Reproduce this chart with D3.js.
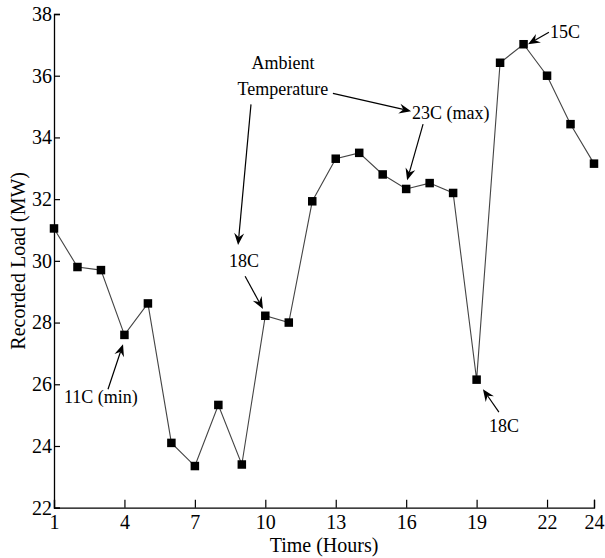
<!DOCTYPE html>
<html>
<head>
<meta charset="utf-8">
<script src="https://cdn.jsdelivr.net/npm/d3@7"></script>
<style>
  html, body { margin: 0; padding: 0; background: #fff; }
  svg { display: block; }
  text { font-family: "Liberation Serif", "Times New Roman", serif; fill: #000; }
</style>
</head>
<body>
<svg id="chart" width="605" height="558"></svg>
<script>
// ---- data ----
const hours = [1,2,3,4,5,6,7,8,9,10,11,12,13,14,15,16,17,18,19,20,21,22,23,24];
const loadMW = [31.05,29.8,29.7,27.6,28.62,24.1,23.35,25.33,23.4,28.22,28.0,31.93,33.31,33.5,32.8,32.33,32.52,32.2,26.15,36.42,37.02,36.0,34.43,33.15];
const xTicks = [1,4,7,10,13,16,19,22,24];
const yTicks = [22,24,26,28,30,32,34,36,38];
const xLabel = "Time (Hours)";
const yLabel = "Recorded Load (MW)";

// annotations in data units [hour, MW]
const annoTexts = [
  {t:"Ambient", at:[10.75,36.21], anchor:"middle"},
  {t:"Temperature", at:[10.75,35.38], anchor:"middle"},
  {t:"23C (max)", at:[16.25,34.59], anchor:"start"},
  {t:"18C", at:[9.09,29.80], anchor:"middle"},
  {t:"11C (min)", at:[3.00,25.39], anchor:"middle"},
  {t:"18C", at:[20.17,24.45], anchor:"middle"},
  {t:"15C", at:[22.13,37.21], anchor:"start"}
];
const annoArrows = [
  {from:[12.88,35.43], to:[16.21,34.85]},
  {from:[9.39,35.07], to:[8.84,30.51]},
  {from:[16.72,34.43], to:[16.04,32.61]},
  {from:[9.14,29.50], to:[9.90,28.44]},
  {from:[3.30,25.84], to:[3.94,27.30]},
  {from:[19.95,25.10], to:[19.27,25.84]},
  {from:[22.08,37.41], to:[21.19,37.02]}
];

// ---- layout ----
const svg = d3.select("#chart");
const mLeft = 54, mRight = 594, mTop = 14, mBottom = 507.7;
const x = d3.scaleLinear().domain([1,24]).range([mLeft,mRight]);
const y = d3.scaleLinear().domain([22,38]).range([mBottom,mTop]);

// axes
const xAxis = d3.axisBottom(x).tickValues(xTicks).tickSize(-8).tickPadding(7).tickFormat(d3.format("d"));
const yAxis = d3.axisLeft(y).tickValues(yTicks).tickSize(-6).tickPadding(2).tickFormat(d3.format("d"));

const gx = svg.append("g").attr("transform",`translate(0,${mBottom})`).call(xAxis);
const gy = svg.append("g").attr("transform",`translate(${mLeft},0)`).call(yAxis);
[gx,gy].forEach(g=>{
  g.select(".domain").attr("stroke","#000").attr("stroke-width",1.3);
  g.selectAll(".tick line").attr("stroke","#000").attr("stroke-width",1.2);
  g.selectAll(".tick text").style("font-family",'"Liberation Serif", serif').style("font-size","20px").attr("fill","#000");
});
gx.selectAll(".tick text").attr("dy","0.71em");

// axis labels
svg.append("text").attr("x",(mLeft+mRight)/2).attr("y",552)
  .attr("text-anchor","middle").style("font-size","20px").text(xLabel);
svg.append("text").attr("transform",`translate(25,${(mTop+mBottom)/2}) rotate(-90)`)
  .attr("text-anchor","middle").style("font-size","20px").text(yLabel);

// line
const line = d3.line().x((d,i)=>x(hours[i])).y(d=>y(d));
svg.append("path").datum(loadMW).attr("d",line)
  .attr("fill","none").attr("stroke","#444").attr("stroke-width",1.1);

// markers
const ms = 8.5;
svg.append("g").selectAll("rect").data(loadMW).join("rect")
  .attr("x",(d,i)=>x(hours[i])-ms/2).attr("y",d=>y(d)-ms/2)
  .attr("width",ms).attr("height",ms).attr("fill","#000");

// annotation texts
svg.append("g").selectAll("text").data(annoTexts).join("text")
  .attr("x",d=>x(d.at[0])).attr("y",d=>y(d.at[1]))
  .attr("text-anchor",d=>d.anchor).style("font-size","18px").text(d=>d.t);

// annotation arrows
const ga = svg.append("g");
annoArrows.forEach(a=>{
  const x1=x(a.from[0]), y1=y(a.from[1]), x2=x(a.to[0]), y2=y(a.to[1]);
  const ang = Math.atan2(y2-y1, x2-x1);
  const L = 12, W = 5, N = 8;
  const ux=Math.cos(ang), uy=Math.sin(ang), px=-uy, py=ux;
  ga.append("line").attr("x1",x1).attr("y1",y1)
    .attr("x2",x2-ux*N).attr("y2",y2-uy*N)
    .attr("stroke","#000").attr("stroke-width",1.2);
  const pts = [
    [x2,y2],
    [x2-ux*L+px*W, y2-uy*L+py*W],
    [x2-ux*N, y2-uy*N],
    [x2-ux*L-px*W, y2-uy*L-py*W]
  ];
  ga.append("path").attr("d","M"+pts.map(p=>p.join(",")).join("L")+"Z").attr("fill","#000");
});
</script>
</body>
</html>
